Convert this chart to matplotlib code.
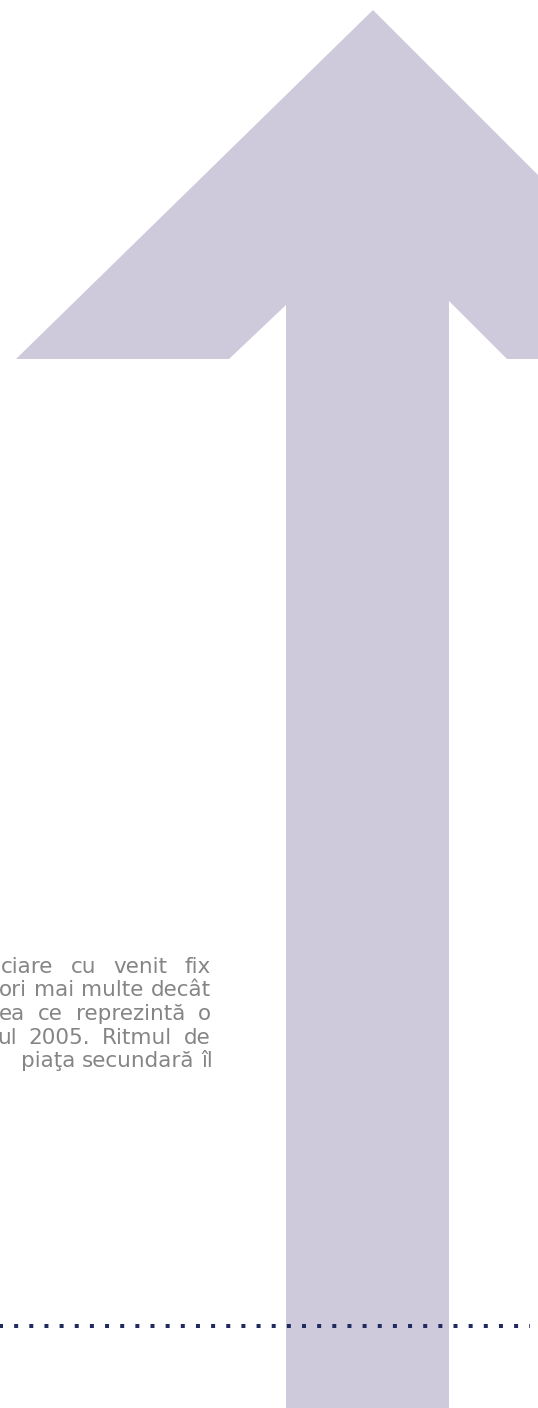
import matplotlib
matplotlib.use("Agg")
import matplotlib.pyplot as plt
from matplotlib.patches import Polygon

W, H = 538, 1408

# contur sageata (pixeli, y in jos)
sageata_x = [373, 722, 507, 449, 449, 286, 286, 229, 16]
sageata_y = [10, 359, 359, 301, 1420, 1420, 305, 359, 359]
CULOARE_SAGEATA = "#cecadb"

# textul paragrafului (taiat in stanga)
randuri = [
    ["ciare", "cu", "venit", "fix"],
    ["ori", "mai", "multe", "decât"],
    ["ea", "ce", "reprezintă", "o"],
    ["ul", "2005.", "Ritmul", "de"],
    ["piaţa", "secundară", "îl"],
]
stanga = [1, -1, -1, -3, None]
baseline = [973, 996.5, 1020, 1043.5, 1067]
dreapta = 211
CULOARE_TEXT = "#858585"

# linia punctata
linie_y = 1326
linie_x = [-4.15, 530]
CULOARE_PUNCTE = "#1f2b5e"

fig = plt.figure(figsize=(W / 100, H / 100), dpi=100)
ax = fig.add_axes([0, 0, 1, 1])
ax.set_xlim(0, W)
ax.set_ylim(H, 0)
ax.axis("off")

ax.add_patch(Polygon(list(zip(sageata_x, sageata_y)), closed=True,
                     facecolor=CULOARE_SAGEATA, edgecolor="none"))

r = fig.canvas.get_renderer()
fs = 15.5
fam = "DejaVu Sans"

# latimea unui spatiu
t1 = ax.text(0, 0, "a a", fontsize=fs, family=fam)
t2 = ax.text(0, 0, "aa", fontsize=fs, family=fam)
spatiu = t1.get_window_extent(r).width - t2.get_window_extent(r).width
t1.remove()
t2.remove()

for cuv, x0, y in zip(randuri, stanga, baseline):
    txts = [ax.text(0, y, w, fontsize=fs, color=CULOARE_TEXT, family=fam,
                    va="baseline", ha="left") for w in cuv]
    lat = [t.get_window_extent(r).width for t in txts]
    if x0 is None:
        # ultimul rand: aliniat la dreapta, spatii normale
        gap = spatiu
        x = dreapta + 2 - sum(lat) - gap * (len(cuv) - 1)
    else:
        # rand justificat
        gap = (dreapta - x0 - sum(lat)) / (len(cuv) - 1)
        x = x0
    for t, w in zip(txts, lat):
        t.set_x(x)
        x += w + gap

lw = 4 / (100 / 72)
ax.plot(linie_x, [linie_y, linie_y], color=CULOARE_PUNCTE, linewidth=lw,
        linestyle=(0, (1, 11.15 / 4)), solid_capstyle="butt", dash_capstyle="butt")

fig.savefig("out.png", dpi=100)
